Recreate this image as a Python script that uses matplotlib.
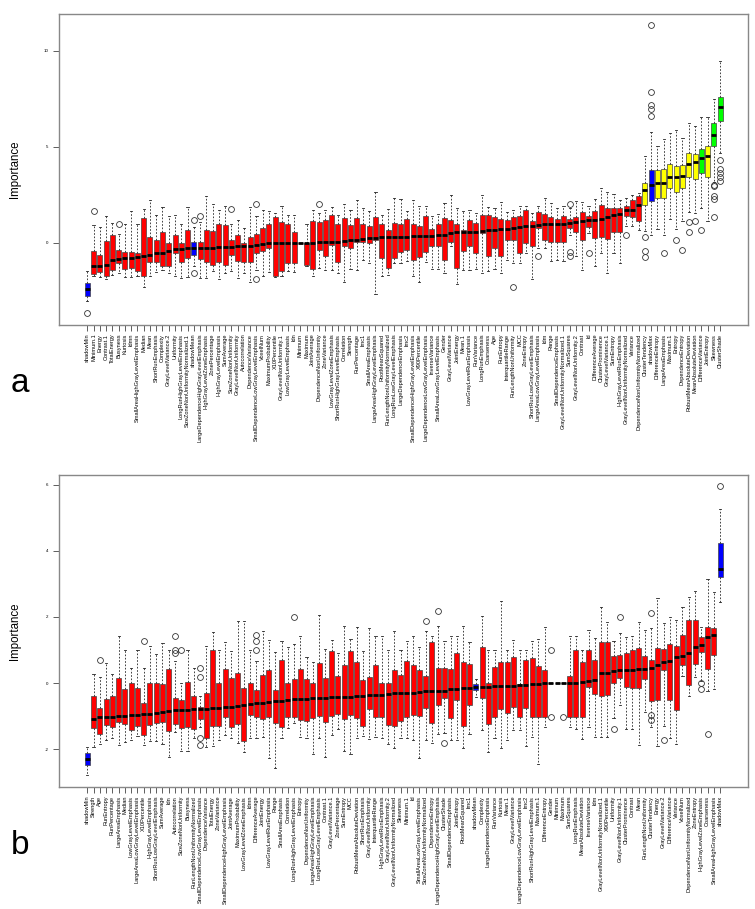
import matplotlib
matplotlib.use("Agg")
import matplotlib.pyplot as plt

# ---------------- Panel a data ----------------
a_labels = ["shadowMin", "Minimum.1", "Energy", "Contrast.1", "TotalEnergy", "Busyness", "Kurtosis", "Idmn",
    "SmallAreaHighGrayLevelEmphasis", "Median", "Mean", "ShortRunEmphasis", "Complexity", "GrayLevelVariance.2",
    "Uniformity", "LongRunHighGrayLevelEmphasis", "SizeZoneNonUniformityNormalized.1", "shadowMean",
    "LargeDependenceHighGrayLevelEmphasis", "HighGrayLevelZoneEmphasis", "ZonePercentage", "HighGrayLevelEmphasis",
    "SumAverage", "SizeZoneNonUniformity", "GrayLevelNonUniformity", "Autocorrelation", "DependenceVariance",
    "SmallDependenceLowGrayLevelEmphasis", "VoxelNum", "MaximumProbability", "X10Percentile",
    "GrayLevelNonUniformity.1", "LowGrayLevelEmphasis", "Idn", "Minimum", "Maximum", "JointAverage",
    "DependenceNonUniformity", "ZoneVariance", "LowGrayLevelZoneEmphasis", "ShortRunHighGrayLevelEmphasis",
    "Correlation", "Strength", "RunPercentage", "Imc1", "SmallAreaEmphasis", "LargeAreaHighGrayLevelEmphasis",
    "RootMeanSquared", "RunLengthNonUniformityNormalized", "LongRunLowGrayLevelEmphasis", "LargeDependenceEmphasis",
    "Imc2", "SmallDependenceHighGrayLevelEmphasis", "X90Percentile", "LargeDependenceLowGrayLevelEmphasis",
    "InverseVariance", "SmallAreaLowGrayLevelEmphasis", "Gender", "GrayLevelVariance", "JointEnergy", "Mean.1",
    "LowGrayLevelRunEmphasis", "RunVariance", "LongRunEmphasis", "Coarseness", "Age", "RunEntropy",
    "InterquartileRange", "RunLengthNonUniformity", "MCC", "ZoneEntropy", "ShortRunLowGrayLevelEmphasis",
    "LargeAreaLowGrayLevelEmphasis", "Idm", "Range", "SmallDependenceEmphasis",
    "GrayLevelNonUniformityNormalized.1", "SumSquares", "GrayLevelNonUniformity.2", "Contrast", "Id",
    "DifferenceAverage", "ClusterProminence", "GrayLevelVariance.1", "SumEntropy", "HighGrayLevelRunEmphasis",
    "GrayLevelNonUniformityNormalized", "Variance", "DependenceNonUniformityNormalized", "ClusterTendency",
    "shadowMax", "DifferenceEntropy", "LargeAreaEmphasis", "Maximum.1", "Entropy", "DependenceEntropy",
    "RobustMeanAbsoluteDeviation", "MeanAbsoluteDeviation", "DifferenceVariance", "JointEntropy", "Skewness",
    "ClusterShade"]

a_q1 = [-2.74, -1.61, -1.52, -1.70, -1.42, -1.04, -1.35, -1.30, -1.47, -1.73,
        -0.99, -0.99, -1.21, -1.21, -0.55, -1.00, -0.78, -0.61, -0.83, -1.00,
        -1.13, -1.00, -1.16, -0.61, -0.95, -1.00, -1.00, -0.52, -0.40, -0.29,
        -1.70, -1.47, -1.04, -1.04, 0.00, -1.13, -1.35, -0.35, -0.69, -0.09,
        -1.00, -0.17, -0.26, 0.03, 0.03, 0.00, 0.14, -0.78, -1.30, -0.78,
        -0.48, -0.38, -0.90, -0.73, -0.48, -0.14, -0.17, -0.90, 0.03, -1.30,
        -0.43, -0.17, -0.52, 0.52, -0.66, -0.26, -0.66, 0.17, 0.14, -0.52,
        0.00, -0.17, 0.78, 0.17, 0.03, 0.03, 0.07, 0.78, 0.55, 0.17,
        0.81, 0.26, 0.31, 0.21, 0.55, 0.55, 1.39, 1.35, 1.13, 1.99,
        2.16, 2.34, 2.34, 2.86, 2.63, 2.86, 3.43, 3.32, 3.64, 3.43,
        5.02, 6.36]
a_med = [-2.39, -1.21, -1.21, -1.16, -0.90, -0.85, -0.78, -0.78, -0.73, -0.66,
         -0.61, -0.55, -0.52, -0.43, -0.31, -0.31, -0.26, -0.26, -0.26, -0.26,
         -0.26, -0.23, -0.23, -0.21, -0.17, -0.14, -0.14, -0.09, -0.05, -0.03,
         -0.02, -0.02, -0.02, -0.02, 0.00, 0.00, 0.00, 0.03, 0.03, 0.05,
         0.07, 0.10, 0.14, 0.17, 0.21, 0.24, 0.26, 0.29, 0.31, 0.33,
         0.33, 0.33, 0.34, 0.35, 0.36, 0.38, 0.40, 0.42, 0.50, 0.55,
         0.57, 0.57, 0.57, 0.62, 0.66, 0.69, 0.73, 0.74, 0.78, 0.81,
         0.87, 0.90, 0.95, 0.97, 0.97, 0.99, 1.00, 1.04, 1.09, 1.13,
         1.18, 1.21, 1.25, 1.35, 1.47, 1.51, 1.73, 1.73, 1.96, 2.75,
         3.00, 3.10, 3.12, 3.43, 3.43, 3.50, 4.12, 4.21, 4.40, 4.50,
         5.63, 7.05]
a_q3 = [-2.11, -0.40, -0.62, 0.12, 0.42, -0.38, -0.48, -0.48, -0.55, 1.30,
        0.31, 0.17, 0.57, 0.00, 0.42, 0.00, 0.69, 0.03, 0.03, 0.69,
        0.61, 1.00, 0.94, 0.14, 0.42, 0.00, 0.31, 0.47, 0.76, 1.00,
        1.37, 1.11, 1.00, 0.57, 0.00, 0.00, 1.13, 1.07, 1.21, 1.47,
        1.00, 1.30, 0.95, 1.28, 1.00, 0.87, 1.35, 1.00, 0.66, 1.04,
        1.00, 1.25, 1.00, 0.87, 1.39, 0.73, 1.00, 1.30, 1.21, 1.00,
        0.69, 1.18, 1.04, 1.47, 1.44, 1.35, 1.25, 1.18, 1.33, 1.39,
        1.70, 1.13, 1.61, 1.52, 1.35, 1.25, 1.42, 1.25, 1.35, 1.63,
        1.42, 1.65, 1.99, 1.82, 1.82, 1.82, 1.94, 2.25, 2.46, 3.12,
        3.81, 3.81, 3.84, 4.10, 4.02, 4.07, 4.68, 4.64, 4.88, 5.02,
        6.23, 7.58]
a_wlo = [-3.03, -1.70, -1.77, -1.87, -1.65, -1.59, -1.77, -1.77, -1.73, -2.29,
         -1.70, -1.52, -1.42, -1.59, -1.70, -1.82, -1.77, -1.21, -1.82, -1.82,
         -1.47, -1.90, -1.56, -1.47, -1.82, -1.59, -2.04, -1.40, -1.70, -1.52,
         -1.80, -1.70, -1.47, -1.52, 0.00, -1.20, -1.70, -1.30, -1.42, -1.42,
         -1.59, -2.04, -1.35, -1.42, -0.90, -1.04, -2.68, -1.70, -1.65, -1.04,
         -1.04, -0.95, -1.73, -2.04, -0.99, -1.35, -1.35, -1.59, -0.17, -2.16,
         -1.42, -1.42, -1.35, -1.56, -1.47, -1.35, -1.59, -0.87, -1.07, -1.07,
         -0.52, -1.87, -0.26, -0.26, -0.95, -0.87, -0.95, 0.43, -0.69, -1.39,
         0.52, -1.18, -0.52, -1.56, -0.52, -1.04, 0.90, 0.87, 0.69, 0.61,
         0.43, 0.73, 0.43, 1.25, 0.73, 1.13, 1.59, 1.56, 1.82, 1.13,
         3.15, 4.68]
a_whi = [-1.47, 0.95, 0.83, 1.42, 1.04, 0.48, 1.00, 1.66, 1.00, 1.77,
         2.22, 1.47, 1.87, 1.42, 1.47, 1.00, 1.87, 0.81, 1.07, 2.42,
         2.04, 1.70, 1.90, 1.00, 1.21, 0.78, 1.87, 1.39, 1.70, 1.65,
         1.56, 1.94, 1.47, 1.47, 0.00, 1.00, 1.70, 1.56, 1.73, 1.87,
         1.47, 2.04, 1.70, 2.22, 1.82, 1.65, 2.63, 1.47, 1.77, 2.34,
         2.29, 1.65, 2.22, 1.90, 1.90, 1.42, 1.52, 2.08, 2.51, 1.82,
         1.65, 1.73, 1.56, 2.51, 1.87, 1.82, 2.15, 1.63, 1.73, 1.90,
         1.90, 1.56, 1.90, 2.34, 2.08, 1.82, 1.90, 1.82, 2.16, 2.15,
         1.94, 2.29, 2.86, 2.63, 2.56, 2.25, 2.34, 2.51, 2.60, 4.54,
         5.77, 5.06, 5.40, 5.71, 5.89, 5.45, 6.23, 6.10, 6.55, 6.55,
         7.48, 9.44]
a_outliers = {
    "shadowMin": [-3.67], "Minimum.1": [1.65], "Busyness": [1.00], "shadowMean": [1.18, -1.59],
    "LargeDependenceHighGrayLevelEmphasis": [1.42], "SizeZoneNonUniformity": [1.77],
    "SmallDependenceLowGrayLevelEmphasis": [2.04, -1.90], "DependenceNonUniformity": [2.04],
    "RunLengthNonUniformity": [-2.29], "LargeAreaLowGrayLevelEmphasis": [-0.69],
    "SumSquares": [2.04, -0.48, -0.66], "Id": [-0.52], "GrayLevelNonUniformityNormalized": [0.43],
    "ClusterTendency": [0.31, -0.43, -0.73], "shadowMax": [11.32, 7.83, 7.17, 6.96, 6.58],
    "LargeAreaEmphasis": [-0.55], "Entropy": [0.17], "DependenceEntropy": [-0.38],
    "RobustMeanAbsoluteDeviation": [1.07, 0.57], "MeanAbsoluteDeviation": [1.13],
    "DifferenceVariance": [0.69], "Skewness": [3.03, 2.94, 2.46, 2.29, 1.35],
    "ClusterShade": [4.29, 3.84, 3.64, 3.43, 3.20]}
a_tentative = ["ClusterTendency", "DifferenceEntropy", "LargeAreaEmphasis", "Maximum.1", "Entropy",
               "DependenceEntropy", "RobustMeanAbsoluteDeviation", "MeanAbsoluteDeviation", "JointEntropy"]
a_confirmed = ["DifferenceVariance", "Skewness", "ClusterShade"]

# ---------------- Panel b data ----------------
b_labels = ["shadowMin", "Strength", "Age", "RunEntropy", "RunPercentage", "LargeAreaEmphasis", "Median",
    "LowGrayLevelEmphasis", "LargeAreaLowGrayLevelEmphasis", "X10Percentile", "HighGrayLevelEmphasis",
    "ShortRunLowGrayLevelEmphasis", "SumAverage", "Idn", "Autocorrelation", "SizeZoneNonUniformity", "Busyness",
    "RunLengthNonUniformityNormalized", "SmallDependenceLowGrayLevelEmphasis", "DependenceVariance", "TotalEnergy",
    "ZoneVariance", "SmallDependenceHighGrayLevelEmphasis", "JointAverage", "MaximumProbability",
    "LowGrayLevelZoneEmphasis", "Idmn", "DifferenceAverage", "JointEnergy", "LowGrayLevelRunEmphasis", "Range",
    "SmallAreaEmphasis", "Correlation", "LongRunHighGrayLevelEmphasis", "Entropy", "DependenceNonUniformity",
    "LargeAreaHighGrayLevelEmphasis", "LongRunLowGrayLevelEmphasis", "Contrast.1", "GrayLevelVariance.1",
    "ZonePercentage", "SumEntropy", "MCC", "RobustMeanAbsoluteDeviation", "ShortRunEmphasis",
    "GrayLevelNonUniformity", "InterquartileRange", "HighGrayLevelRunEmphasis", "GrayLevelNonUniformity.2",
    "GrayLevelNonUniformityNormalized", "Skewness", "Minimum.1", "Id", "SmallAreaLowGrayLevelEmphasis",
    "SizeZoneNonUniformityNormalized", "DependenceEntropy", "LargeDependenceHighGrayLevelEmphasis", "ClusterShade",
    "SmallDependenceEmphasis", "JointEntropy", "RootMeanSquared", "Imc1", "shadowMean", "Complexity",
    "LargeDependenceEmphasis", "RunVariance", "Kurtosis", "Mean.1", "GrayLevelVariance",
    "LargeDependenceLowGrayLevelEmphasis", "Imc2", "ShortRunHighGrayLevelEmphasis", "Maximum.1",
    "DifferenceEntropy", "Gender", "Minimum", "Maximum", "SumSquares", "LongRunEmphasis",
    "MeanAbsoluteDeviation", "InverseVariance", "Idm", "GrayLevelNonUniformityNormalized.1", "X90Percentile",
    "Uniformity", "GrayLevelNonUniformity.1", "ClusterProminence", "Contrast", "Mean", "RunLengthNonUniformity",
    "ClusterTendency", "Energy", "GrayLevelVariance.2", "DifferenceVariance", "Variance", "VoxelNum",
    "DependenceNonUniformityNormalized", "ZoneEntropy", "HighGrayLevelZoneEmphasis", "Coarseness",
    "SmallAreaHighGrayLevelEmphasis", "shadowMax"]

b_q1 = [-2.48, -1.36, -1.53, -1.26, -1.34, -1.17, -1.24, -1.42, -1.29, -1.58,
        -1.26, -1.22, -1.16, -1.46, -1.24, -1.37, -1.34, -1.39, -1.09, -1.67,
        -1.31, -1.31, -1.01, -1.34, -1.24, -1.75, -0.96, -1.02, -1.09, -1.02,
        -1.19, -1.34, -1.01, -1.01, -1.12, -1.14, -1.06, -0.99, -1.16, -0.99,
        -0.94, -1.09, -0.96, -1.04, -1.29, -0.79, -1.01, -1.01, -1.26, -1.29,
        -1.14, -1.02, -0.96, -0.99, -0.74, -1.22, -0.67, -0.45, -1.04, -0.52,
        -1.31, -0.67, -0.21, -0.45, -1.24, -1.01, -0.79, -0.89, -0.71, -1.01,
        -0.76, -1.01, -1.01, -1.01, 0.00, 0.00, 0.00, -1.01, -1.01, -1.01,
        -0.11, -0.33, -0.38, -0.35, -0.01, 0.15, -0.13, -0.16, -0.16, 0.12,
        -0.54, -0.52, 0.40, -0.52, -0.81, 0.55, -0.05, 0.58, 0.93, 0.42,
        0.86, 3.20]
b_med = [-2.30, -1.09, -1.02, -1.01, -1.01, -0.99, -0.99, -0.97, -0.96, -0.94,
         -0.92, -0.89, -0.86, -0.84, -0.82, -0.82, -0.81, -0.79, -0.79, -0.79,
         -0.74, -0.74, -0.72, -0.71, -0.69, -0.67, -0.64, -0.61, -0.59, -0.57,
         -0.54, -0.54, -0.52, -0.48, -0.48, -0.48, -0.46, -0.45, -0.45, -0.43,
         -0.43, -0.41, -0.41, -0.39, -0.39, -0.36, -0.36, -0.35, -0.33, -0.31,
         -0.31, -0.30, -0.30, -0.28, -0.25, -0.25, -0.23, -0.23, -0.18, -0.18,
         -0.16, -0.15, -0.13, -0.11, -0.11, -0.10, -0.10, -0.09, -0.08, -0.06,
         -0.06, -0.04, -0.03, -0.01, 0.00, 0.00, 0.00, 0.00, 0.00, 0.02,
         0.07, 0.09, 0.32, 0.32, 0.37, 0.39, 0.40, 0.40, 0.42, 0.42,
         0.47, 0.56, 0.63, 0.68, 0.78, 0.83, 0.91, 1.10, 1.16, 1.38,
         1.46, 3.45]
b_q3 = [-2.12, -0.38, -0.74, -0.47, -0.38, 0.15, -0.18, 0.00, -0.16, -0.59,
        0.00, 0.00, -0.02, 0.42, -0.45, -0.52, 0.04, -0.40, -0.72, -0.30,
        1.01, -0.01, 0.44, 0.15, 0.30, -0.16, 0.00, -0.21, 0.24, 0.40,
        -0.20, 0.70, 0.00, 0.12, 0.44, 0.13, 0.00, 0.61, 0.15, 0.96,
        0.22, 0.55, 0.96, 0.65, 0.09, 0.19, 0.56, 0.00, 0.00, 0.39,
        0.24, 0.68, 0.55, 0.39, 0.22, 1.23, 0.45, 0.45, 0.42, 0.91,
        0.65, 0.58, -0.03, 1.08, 0.00, 0.49, 0.63, 0.65, 0.78, -0.02,
        0.71, 0.75, 0.53, 0.39, 0.00, 0.00, 0.00, 0.22, 1.00, 0.63,
        1.00, 0.70, 1.23, 1.23, 0.83, 0.85, 0.90, 1.00, 1.06, 0.83,
        0.70, 1.06, 1.03, 1.18, 1.13, 1.46, 1.91, 1.92, 1.38, 1.69,
        1.67, 4.24]
b_wlo = [-2.79, -1.93, -1.83, -1.73, -1.67, -1.87, -1.77, -1.73, -1.60, -1.87,
         -1.75, -1.75, -1.83, -2.23, -1.49, -2.05, -2.05, -1.67, -1.34, -1.93,
         -1.90, -1.73, -1.57, -1.67, -1.80, -2.07, -1.67, -1.65, -1.63, -2.27,
         -2.56, -1.67, -1.36, -1.19, -1.63, -1.67, -2.15, -1.67, -2.23, -1.57,
         -1.39, -2.05, -2.13, -1.67, -1.60, -1.70, -1.63, -1.67, -1.85, -1.97,
         -1.65, -1.67, -1.73, -2.25, -1.73, -1.80, -1.55, -1.50, -1.73, -1.73,
         -1.97, -1.55, -0.43, -1.42, -2.07, -1.65, -1.95, -1.73, -1.42, -1.42,
         -1.90, -1.63, -2.45, -1.32, 0.00, 0.00, 0.00, -1.32, -1.39, -1.70,
         -1.34, -1.63, -1.63, -1.63, -1.04, -0.66, -1.39, -1.39, -1.87, -0.86,
         -1.32, -1.90, -1.30, -1.67, -1.85, 0.22, -0.38, 0.19, 0.07, -0.25,
         -0.18, 2.44]
b_whi = [-1.93, 0.29, 0.19, 0.62, 0.29, 1.42, 1.00, 0.47, 1.00, 0.47,
         1.13, 0.88, 1.20, 1.00, 0.68, 0.00, 1.00, 0.45, -0.40, 1.13,
         1.54, 1.00, 1.23, 0.96, 1.89, 1.87, 1.00, 0.68, 1.57, 1.30,
         0.93, 1.26, 1.10, 1.18, 1.43, 0.78, 0.63, 2.07, 1.03, 1.31,
         0.90, 1.74, 1.33, 1.71, 0.98, 1.67, 1.41, 1.43, 1.00, 1.59,
         1.00, 1.28, 1.41, 1.08, 1.59, 1.43, 1.74, 1.28, 1.43, 1.41,
         1.74, 1.23, 0.12, 2.04, 1.00, 1.00, 2.49, 1.00, 1.30, 1.00,
         1.00, 1.28, 1.33, 1.71, 0.00, 0.00, 0.00, 1.43, 1.43, 1.00,
         1.61, 1.36, 2.31, 1.84, 1.28, 1.50, 1.40, 1.43, 1.84, 1.60,
         1.67, 2.58, 1.81, 2.01, 1.91, 2.31, 2.60, 2.77, 1.69, 3.15,
         2.75, 5.25]
b_outliers = {
    "Age": [0.70], "X10Percentile": [1.26], "Autocorrelation": [1.43, 1.00, 0.90],
    "SizeZoneNonUniformity": [1.00], "SmallDependenceLowGrayLevelEmphasis": [0.47, 0.20, -1.67, -1.87],
    "DifferenceAverage": [1.46, 1.26, 1.00], "LongRunHighGrayLevelEmphasis": [1.99],
    "SizeZoneNonUniformityNormalized": [1.89], "LargeDependenceHighGrayLevelEmphasis": [2.19],
    "ClusterShade": [-1.80], "Gender": [1.00, -1.01], "Maximum": [-1.01], "Uniformity": [-1.39],
    "GrayLevelNonUniformity.1": [1.99], "ClusterTendency": [2.13, -0.96, -1.12],
    "GrayLevelVariance.2": [-1.73], "HighGrayLevelZoneEmphasis": [-0.01, -0.18],
    "Coarseness": [-1.55], "shadowMax": [5.95]}
b_tentative = []
b_confirmed = []

COL = {"shadow": "#0000FF", "rejected": "#FF0000", "tentative": "#FFFF00", "confirmed": "#00FF00"}

fig = plt.figure(figsize=(7.55, 9.09), dpi=100)
plt.rcParams['font.family'] = ['Liberation Sans', 'DejaVu Sans']


def panel(rect, labels, q1, med, q3, wlo, whi, outl, tent, conf, yticks):
    ax = fig.add_axes(rect)
    stats = []
    for i, lab in enumerate(labels):
        stats.append(dict(med=med[i], q1=q1[i], q3=q3[i], whislo=wlo[i], whishi=whi[i],
                          fliers=outl.get(lab, []), label=lab))
    pos = list(range(1, len(labels) + 1))
    bp = ax.bxp(stats, positions=pos, widths=0.8, patch_artist=True, showfliers=True,
                capwidths=0.35,
                boxprops=dict(edgecolor='#444444', linewidth=0.5),
                medianprops=dict(color='black', linewidth=2.0, solid_capstyle='butt'),
                whiskerprops=dict(color='#222222', linewidth=0.6, linestyle=(0, (2.0, 2.0))),
                capprops=dict(color='#222222', linewidth=0.6),
                flierprops=dict(marker='o', markerfacecolor='none', markeredgecolor='#333333',
                                markersize=4.2, markeredgewidth=0.6, linestyle='none'))
    for patch, lab in zip(bp['boxes'], labels):
        if lab.startswith('shadow'):
            c = COL['shadow']
        elif lab in conf:
            c = COL['confirmed']
        elif lab in tent:
            c = COL['tentative']
        else:
            c = COL['rejected']
        patch.set_facecolor(c)
    lo = min(min(wlo), min(v for vals in outl.values() for v in vals))
    hi = max(max(whi), max(v for vals in outl.values() for v in vals))
    pad = 0.04 * (hi - lo)
    ax.set_ylim(lo - pad, hi + pad)
    ax.set_xlim(-3.57, len(labels) + 4.5)
    ax.set_xticks(pos)
    ax.set_xticklabels(labels, rotation=90, fontsize=4.05, va='top', ha='center')
    ax.set_yticks(yticks)
    ax.set_yticklabels([str(t) for t in yticks], fontsize=3.2)
    ax.tick_params(axis='x', length=4.3, width=0.6, color='#444444', pad=2.0)
    ax.tick_params(axis='y', length=4.3, width=0.6, color='#444444', pad=3)
    for s in ax.spines.values():
        s.set_color('#888888')
        s.set_linewidth(1.0)
    return ax


ax_a = panel([0.0777, 0.6425, 0.9134, 0.3424], a_labels, a_q1, a_med, a_q3, a_wlo, a_whi,
             a_outliers, a_tentative, a_confirmed, [0, 5, 10])
ax_b = panel([0.0777, 0.1342, 0.9134, 0.3436], b_labels, b_q1, b_med, b_q3, b_wlo, b_whi,
             b_outliers, b_tentative, b_confirmed, [-2, 0, 2, 4, 6])

fig.text(15 / 755, 1 - 169 / 909, "Importance", rotation=90, fontsize=8.3, ha='center', va='center')
fig.text(15 / 755, 1 - 631 / 909, "Importance", rotation=90, fontsize=8.3, ha='center', va='center')
fig.text(20 / 755, 1 - 383 / 909, "a", fontsize=24, ha='center', va='center')
fig.text(20 / 755, 1 - 845 / 909, "b", fontsize=24, ha='center', va='center')

fig.savefig("out.png", dpi=100)
